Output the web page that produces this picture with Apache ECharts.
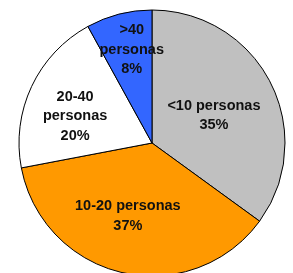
<!DOCTYPE html>
<html><head><meta charset="utf-8">
<script src="https://cdn.jsdelivr.net/npm/echarts@6/dist/echarts.min.js"></script>
<style>html,body{margin:0;padding:0;background:#fff}#c{width:293px;height:273px}</style>
</head><body><div id="c"></div>
<script>
var categories = ['<10 personas', '10-20 personas', '20-40\npersonas', '>40\npersonas'];
var values = [35, 37, 20, 8];
var colors = ['#c0c0c0', '#ff9900', '#ffffff', '#3366ff'];
var labelShift = [[0, 4], [-9, 5], [-14, 3], [-3, -26]];

var chart = echarts.init(document.getElementById('c'), null, {renderer: 'canvas'});
chart.setOption({
  animation: false,
  series: [{
    type: 'pie',
    center: [152, 143],
    radius: 133,
    startAngle: 90,
    clockwise: true,
    data: categories.map(function (c, i) {
      return {name: c, value: values[i], itemStyle: {color: colors[i]}};
    }),
    itemStyle: {borderColor: '#000', borderWidth: 1},
    label: {
      position: 'inside',
      formatter: function (p) { return p.name + '\n' + p.value + '%'; },
      fontFamily: 'Liberation Sans, Arial, sans-serif',
      fontWeight: 'bold',
      fontSize: 14.5,
      lineHeight: 19.5,
      color: '#111',
      textBorderWidth: 0
    },
    labelLayout: function (params) {
      var s = labelShift[params.dataIndex];
      return {dx: s[0], dy: s[1]};
    },
    emphasis: {disabled: true}
  }]
});
</script></body></html>
